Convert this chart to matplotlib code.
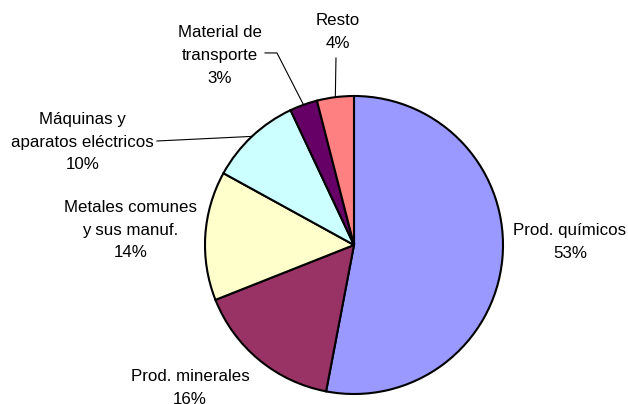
import matplotlib.pyplot as plt
import numpy as np

# exports by product group
labels = ['Prod. químicos', 'Prod. minerales', 'Metales comunes\ny sus manuf.',
          'Máquinas y\naparatos eléctricos', 'Material de\ntransporte', 'Resto']
shares = [53, 16, 14, 10, 3, 4]
colors = ['#9999FF', '#993366', '#FFFFCC', '#CCFFFF', '#660066', '#FF8080']

# where the label text sits (pie radius = 1)
label_xy = [(1.45, 0.02), (-1.10, -0.96), (-1.50, 0.10),
            (-1.82, 0.69), (-0.90, 1.27), (-0.11, 1.43)]
# leader lines: label-side points for the small slices (None = no line)
leader_pts = [None, None, None,
              [(-1.322, 0.698)],
              [(-0.597, 1.289), (-0.517, 1.289)],
              [(-0.121, 1.255)]]

plt.rcParams['font.family'] = ['Liberation Sans', 'DejaVu Sans']

fig = plt.figure(figsize=(6.28, 4.04), dpi=100)
ax = fig.add_axes([0, 0, 1, 1])

wedges, _ = ax.pie(shares, colors=colors, startangle=90, counterclock=False,
                   radius=1, wedgeprops=dict(edgecolor='black', linewidth=1.5))

for w, lab, s, (tx, ty), pts in zip(wedges, labels, shares, label_xy, leader_pts):
    ax.text(tx, ty, f'{lab}\n{s}%', ha='center', va='center',
            fontsize=12.2, linespacing=1.65)
    if pts is not None:
        mid = np.deg2rad((w.theta1 + w.theta2) / 2)
        xs = [p[0] for p in pts] + [np.cos(mid)]
        ys = [p[1] for p in pts] + [np.sin(mid)]
        ax.plot(xs, ys, color='black', linewidth=0.8)

ax.set_aspect('auto')
ax.set_xlim(-354 / 149, (628 - 354) / 149)
ax.set_ylim(-(404 - 245) / 149, 245 / 149)
ax.axis('off')

fig.savefig('out.png', dpi=100)
